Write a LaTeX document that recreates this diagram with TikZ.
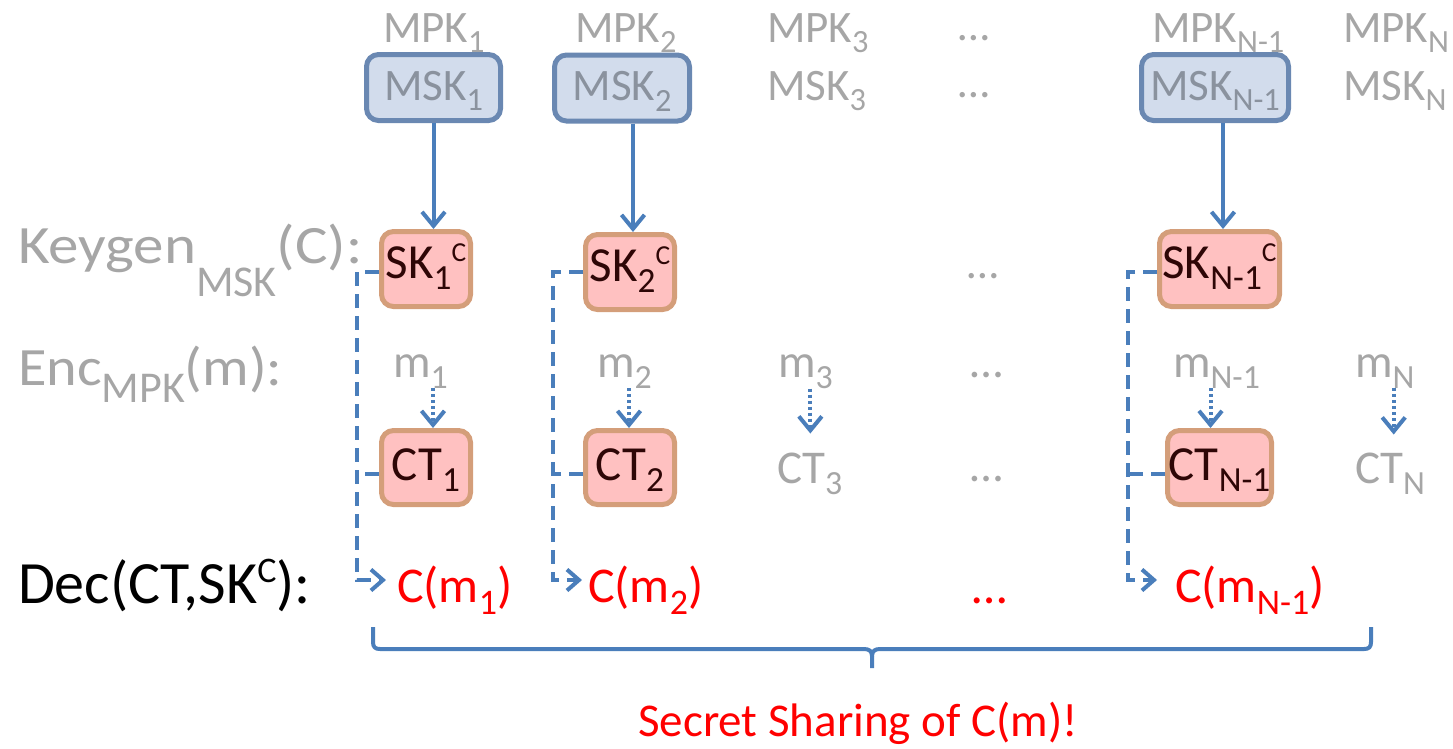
\documentclass[tikz,border=0pt]{standalone}
\usepackage{fontspec}
\setmainfont{Carlito}
\usepackage{graphicx}
\usetikzlibrary{arrows.meta,calc}

\definecolor{txtgray}{HTML}{A6A6A6}
\definecolor{boxgray}{HTML}{8A929E}
\definecolor{linkblue}{HTML}{4A7EBB}
\definecolor{mskfill}{HTML}{D2DCEC}
\definecolor{mskdraw}{HTML}{6A88B2}
\definecolor{keyfill}{HTML}{FFC1C1}
\definecolor{keydraw}{HTML}{D49E7A}
\definecolor{keytext}{HTML}{2E0606}
\definecolor{outred}{HTML}{FF0000}

% sub- and superscripts in the slide style
\newcommand\lo[1]{\raisebox{-0.24em}{\scalebox{0.72}{#1}}}
\newcommand\hi[1]{\raisebox{0.33em}{\scalebox{0.56}{#1}}}
\newcommand\fs[1]{\fontsize{#1pt}{#1pt}\selectfont}

\tikzset{
  lbl/.style={anchor=base west, inner sep=0pt, outer sep=0pt},
  gtxt/.style={lbl, text=txtgray},
  mskbox/.style={draw=mskdraw, fill=mskfill, line width=5pt, rounded corners=12pt,
    inner sep=0pt, minimum height=66pt, text=boxgray, font=\fs{45},
    text height=36pt, text depth=11pt},
  keybox/.style={draw=keydraw, fill=keyfill, line width=5pt, rounded corners=12pt,
    inner sep=0pt, text=keytext, font=\fs{49}},
  skbox/.style={keybox, minimum height=75pt, text height=32pt, text depth=14pt},
  ctbox/.style={keybox, minimum height=74pt, text height=34pt, text depth=9pt},
  keyarrow/.style={draw=linkblue, line width=4pt,
    -{Straight Barb[length=14pt,width=23pt,line width=4pt]}},
  encarrow/.style={draw=linkblue, line width=4pt, dash pattern=on 3pt off 3pt,
    -{Straight Barb[length=14pt,width=23pt,line width=4pt,sep=0pt]}},
  decarrow/.style={draw=linkblue, line width=4pt, dash pattern=on 14pt off 8pt,
    -{Straight Barb[length=12pt,width=21pt,line width=4pt]}},
  decline/.style={draw=linkblue, line width=4pt, dash pattern=on 14pt off 8pt},
  bracepath/.style={draw=linkblue, line width=4pt, line join=round}
}

\begin{document}
\begin{tikzpicture}[x=1pt,y=-1pt]
\useasboundingbox (0,0) rectangle (1453,748);

% ---- row labels
\node[lbl, text=txtgray, font=\fs{54}] (lkey) at (18,263)
  {\scalebox{1.13}[1]{Keygen}\raisebox{-33pt}{\fs{44}MSK}\scalebox{1.13}[1]{(C):}};
\node[lbl, text=txtgray, font=\fs{54}] (lenc) at (18,385)
  {\scalebox{1.08}[1]{Enc}\raisebox{-17pt}{\fs{44}MPK}\scalebox{1.08}[1]{(m):}};
\node[lbl, text=black, font=\fs{60}] (ldec) at (18,603)
  {Dec(CT,SK\raisebox{21pt}{\fs{36}C}):};

% ---- public keys
\begin{scope}[every node/.style={gtxt, font=\fs{45}}]
  \node (mpk1) at (383,42) {MPK\lo{1}};
  \node (mpk2) at (575,42) {MPK\lo{2}};
  \node (mpk3) at (767,42) {MPK\lo{3}};
  \node (mpkd) at (958,40) {…};
  \node (mpkn1) at (1152,42) {MPK\lo{N-1}};
  \node (mpkn) at (1343,42) {MPK\lo{N}};
  \node (msk3) at (767,100) {MSK\lo{3}};
  \node (mskd) at (958,97) {…};
  \node (mskn) at (1343,100) {MSK\lo{N}};
\end{scope}

% ---- master secret keys
\node[mskbox, minimum width=134pt] (msk1) at (433.5,87.5) {MSK\lo{1}};
\node[mskbox, minimum width=135pt] (msk2) at (622,88) {MSK\lo{2}};
\node[mskbox, minimum width=147pt] (mskn1) at (1215,87.5) {MSK\lo{N-1}};

% ---- secret keys for C
\node[skbox, minimum width=89pt] (sk1) at (426,269) {SK\lo{1}\hi{C}};
\node[skbox, minimum width=89pt] (sk2) at (630,272) {SK\lo{2}\hi{C}};
\node[skbox, minimum width=120pt] (skn1) at (1219.5,269) {SK\lo{N-1}\hi{C}};
\node[gtxt, font=\fs{45}] (skd) at (967,278) {…};

% ---- messages
\begin{scope}[every node/.style={gtxt, font=\fs{47}}]
  \node (m1) at (393,377) {m\lo{1}};
  \node (m2) at (597,377) {m\lo{2}};
  \node (m3) at (778,377) {m\lo{3}};
  \node (md) at (970,377) {…};
  \node (mn1) at (1173,377) {m\lo{N-1}};
  \node (mn) at (1355,377) {m\lo{N}};
  \node (ct3) at (777,483) {CT\lo{3}};
  \node (ctd) at (970,481) {…};
  \node (ctn) at (1355,483) {CT\lo{N}};
\end{scope}

% ---- ciphertexts
\node[ctbox, minimum width=89pt] (ct1) at (426,467.5) {CT\lo{1}};
\node[ctbox, minimum width=89pt] (ct2) at (630,467.5) {CT\lo{2}};
\node[ctbox, minimum width=104pt] (ctn1) at (1219.5,467.5) {CT\lo{N-1}};

% ---- decryptions
\begin{scope}[every node/.style={lbl, text=outred, font=\fs{50}}]
  \node (cm1) at (397,602) {C(m\lo{1})};
  \node (cm2) at (588,602) {C(m\lo{2})};
  \node (cmd) at (972,603) {…};
  \node (cmn1) at (1175,602) {C(m\lo{N-1})};
\end{scope}

% ---- key generation arrows
\draw[keyarrow] (msk1.south) -- (msk1.south |- sk1.north);
\draw[keyarrow] ([xshift=11pt]msk2.south) -- ([xshift=3pt]sk2.north);
\draw[keyarrow] ([xshift=8pt]mskn1.south) -- ([xshift=3.5pt]skn1.north);

% ---- encryption arrows
\draw[encarrow] ([xshift=7pt]ct1.north |- m1.south) -- ([xshift=7pt]ct1.north);
\draw[encarrow] ([xshift=-1pt]ct2.north |- m2.south) -- ([xshift=-1pt]ct2.north);
\draw[encarrow] ([xshift=5pt]m3.south) -- ([xshift=5pt,yshift=19pt]m3.south |- ct3.north);
\draw[encarrow] ([xshift=-9pt]ctn1.north |- mn1.south) -- ([xshift=-9pt]ctn1.north);
\draw[encarrow] ([xshift=9pt]mn.south) -- ([xshift=9pt,yshift=18pt]mn.south |- ctn.north);

% ---- decryption rails
\coordinate (r1) at (357,580);
\coordinate (r2) at (553,580);
\coordinate (r3) at (1128,580);
\draw[decarrow, shorten >=-1pt] ([yshift=-3pt]sk1.west) -| (r1) -- ([xshift=-12pt]r1 -| cm1.west);
\draw[decline] ([yshift=-6pt]ct1.west) -- ([yshift=-6pt]ct1.west -| r1);
\draw[decarrow] (sk2.west) -| (r2) -- ([xshift=-6pt]r2 -| cm2.west);
\draw[decline] ([yshift=-6pt]ct2.west) -- ([yshift=-6pt]ct2.west -| r2);
\draw[decarrow] ([yshift=-3pt]skn1.west) -| (r3) -- ([xshift=-18pt]r3 -| cmn1.west);
\draw[decline] ([yshift=-6pt]ctn1.west) -- ([yshift=-6pt]ctn1.west -| r3);

% ---- brace over the shares
\draw[bracepath] (373,627) -- (373,642) .. controls (373,647) and (375,649) .. (380,649)
  -- (864,649) .. controls (869,649) and (872,651) .. (872,656) -- (872,668);
\draw[bracepath] (872,656) .. controls (872,651) and (875,649) .. (880,649)
  -- (1364,649) .. controls (1369,649) and (1371,647) .. (1371,642) -- (1371,627);
\node[anchor=base, inner sep=0pt, text=outred, font=\fs{47}] (share) at (858,736)
  {Secret Sharing of C(m)!};
\end{tikzpicture}
\end{document}
